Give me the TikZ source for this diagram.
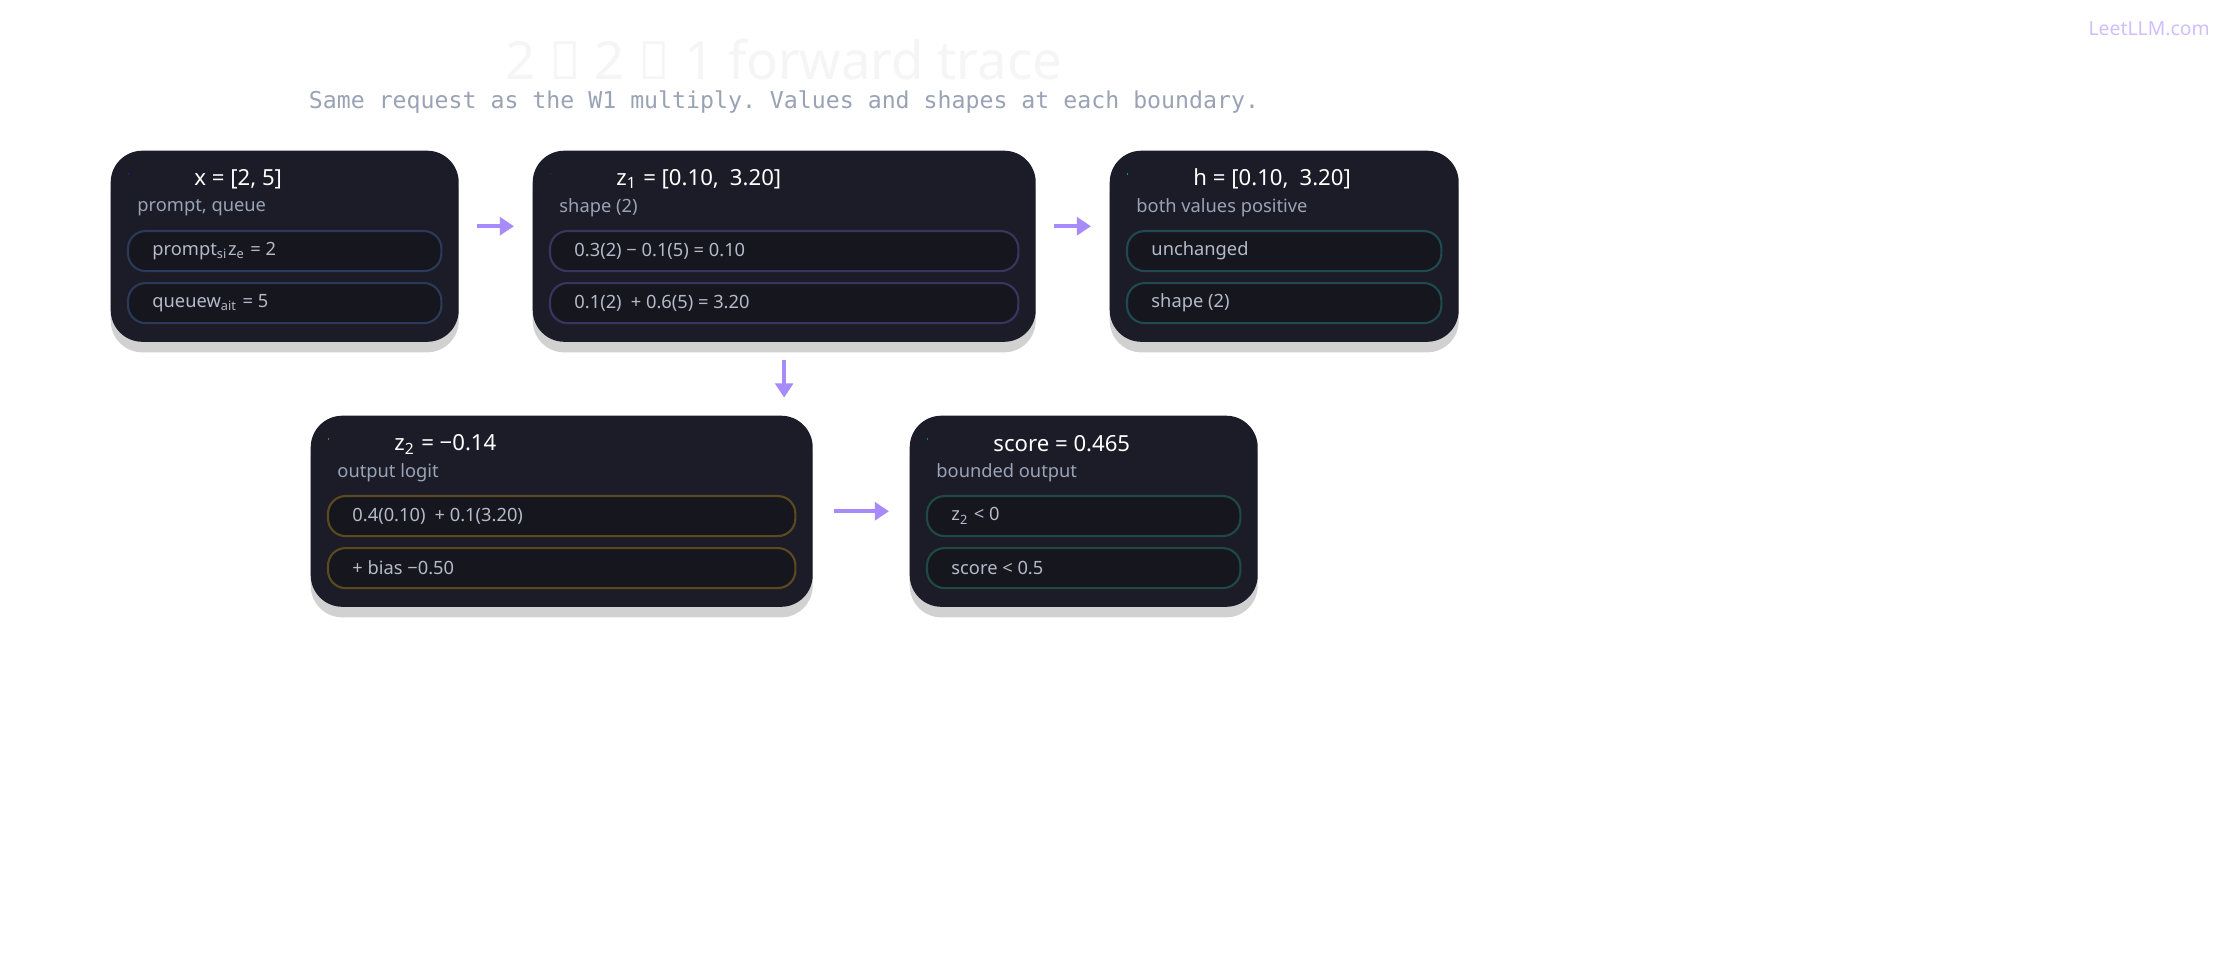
\documentclass[tikz,border=0pt]{standalone}
\usepackage{fontspec}
\setmainfont{Noto Sans}
\setmonofont{DejaVu Sans Mono}
\usetikzlibrary{positioning,shadows,arrows.meta}
\definecolor{cardbg}{HTML}{1C1C28}
\definecolor{cellbg}{HTML}{16161F}
\definecolor{subtxt}{HTML}{9AA3B5}
\definecolor{celltxt}{HTML}{B4BAC8}
\definecolor{arrowc}{HTML}{A78BFA}
\definecolor{edgex}{HTML}{2A3A58}
\definecolor{edgez}{HTML}{393560}
\definecolor{edgeh}{HTML}{1E4A50}
\definecolor{edgeo}{HTML}{5A4A1E}
\definecolor{edges}{HTML}{1E4A42}
\tikzset{
  card/.style={fill=cardbg,rounded corners=9pt,draw=none,
    drop shadow={shadow xshift=0pt,shadow yshift=-3pt,opacity=0.18,fill=black}},
  cell/.style={fill=cellbg,rounded corners=5pt,line width=0.6pt},
  head/.style={anchor=west,text=white,font=\fontsize{6.3}{7}\selectfont\bfseries},
  sub/.style={anchor=west,text=subtxt,font=\fontsize{5.2}{6}\selectfont},
  celltext/.style={anchor=west,text=celltxt,font=\fontsize{5.2}{6}\selectfont},
  flow/.style={arrowc,line width=1.1pt,-{Triangle[length=4pt,width=5pt]}},
}
% card: name, left, top, width, bar colour 1, bar colour 2, cell border, title, subtitle
\newcommand{\tracecard}[9]{%
  \node[card,minimum width=#4*0.01cm,minimum height=1.91cm,anchor=north west] (#1) at (#2,#3) {};
  \shade[left color=#5,right color=#6,rounded corners=1.5pt] ([xshift=0.18cm,yshift=-0.24cm]#1.north west) rectangle +(0.48,-0.05);
  \node[head] (#1t) at ([xshift=0.72cm,yshift=-0.29cm]#1.north west) {#8};
  \node[sub] (#1s) at ([xshift=0.15cm,yshift=-0.58cm]#1.north west) {#9};
  \draw[cell,draw=#7] ([xshift=0.18cm,yshift=-0.81cm]#1.north west) rectangle ([xshift=-0.18cm,yshift=-1.21cm]#1.north east);
  \draw[cell,draw=#7] ([xshift=0.18cm,yshift=-1.33cm]#1.north west) rectangle ([xshift=-0.18cm,yshift=-1.73cm]#1.north east);
}
\begin{document}
\begin{tikzpicture}[x=0.01cm,y=-0.01cm]
\useasboundingbox[fill=white] (0,0) rectangle (2240,958);
\node[text=arrowc!55,font=\fontsize{5.5}{6}\selectfont\bfseries,anchor=east] (brand) at (2222,29) {LeetLLM.com};
\node[text=black!4,font=\fontsize{15}{16}\selectfont\bfseries] (title) at (784,60) {2 → 2 → 1 forward trace};
\node[text=subtxt,font=\fontsize{6.6}{7}\selectfont\ttfamily] (subtitle) at (784,102) {Same request as the W1 multiply. Values and shapes at each boundary.};
\tracecard{cx}{110}{150}{348}{blue!75!cyan!80!black}{blue!45!cyan!70}{edgex}{x = [2, 5]}{prompt, queue}
\node[celltext] at ([xshift=0.3cm,yshift=-1.01cm]cx.north west) {prompt\textsubscript{si}z\textsubscript{e} = 2};
\node[celltext] at ([xshift=0.3cm,yshift=-1.53cm]cx.north west) {queuew\textsubscript{ait} = 5};
\tracecard{cz}{532}{150}{503}{violet!80!blue}{purple!60!violet}{edgez}{z\textsubscript{1} = [0.10,\enspace3.20]}{shape (2)}
\node[celltext] at ([xshift=0.3cm,yshift=-1.01cm]cz.north west) {0.3(2) − 0.1(5) = 0.10};
\node[celltext] at ([xshift=0.3cm,yshift=-1.53cm]cz.north west) {0.1(2)\enspace+ 0.6(5) = 3.20};
\tracecard{ch}{1109}{150}{349}{cyan!80!blue}{cyan!80!teal}{edgeh}{h = [0.10,\enspace3.20]}{both values positive}
\node[celltext] at ([xshift=0.3cm,yshift=-1.01cm]ch.north west) {unchanged};
\node[celltext] at ([xshift=0.3cm,yshift=-1.53cm]ch.north west) {shape (2)};
\tracecard{co}{310}{415}{502}{orange}{red!80!orange}{edgeo}{z\textsubscript{2} = −0.14}{output logit}
\node[celltext] at ([xshift=0.3cm,yshift=-1.01cm]co.north west) {0.4(0.10)\enspace+ 0.1(3.20)};
\node[celltext] at ([xshift=0.3cm,yshift=-1.53cm]co.north west) {+ bias −0.50};
\tracecard{cs}{909}{415}{348}{green!60!teal}{green!70!cyan!70!black}{edges}{score = 0.465}{bounded output}
\node[celltext] at ([xshift=0.3cm,yshift=-1.01cm]cs.north west) {z\textsubscript{2} < 0};
\node[celltext] at ([xshift=0.3cm,yshift=-1.53cm]cs.north west) {score < 0.5};
% connectors
\draw[flow] ([xshift=0.18cm,yshift=0.2cm]cx.east) -- ([xshift=-0.18cm,yshift=0.2cm]cz.west);
\draw[flow] ([xshift=0.18cm,yshift=0.2cm]cz.east) -- ([xshift=-0.18cm,yshift=0.2cm]ch.west);
\draw[flow] ([xshift=2.52cm,yshift=-0.17cm]cz.south west) -- ([xshift=2.52cm,yshift=-0.55cm]cz.south west);
\draw[flow] ([xshift=0.21cm]co.east) -- ([xshift=-0.2cm]cs.west);
\end{tikzpicture}
\end{document}
